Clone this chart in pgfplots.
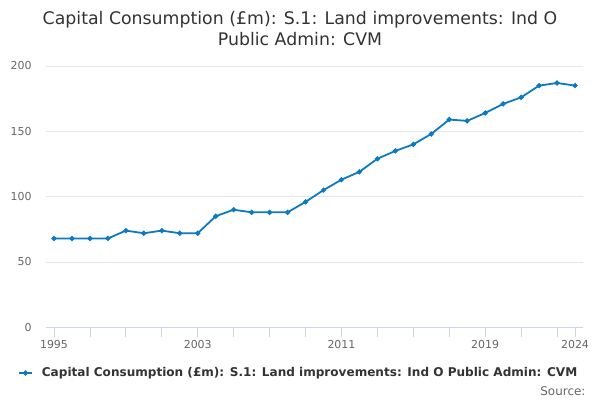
\documentclass[border=0pt]{standalone}
\usepackage{fontspec}
\setmainfont{DejaVu Sans}
\usepackage{pgfplots}
\pgfplotsset{compat=1.18}
\definecolor{line}{RGB}{12,122,194}
\definecolor{tick}{RGB}{102,102,102}
\definecolor{grid}{RGB}{230,230,230}
\definecolor{axisc}{RGB}{204,214,235}
\definecolor{title}{RGB}{51,51,51}
\begin{document}
\begin{tikzpicture}[x=1bp,y=1bp]
\path[use as bounding box] (0,0) rectangle (600,400);
\node[align=center,text=title,font=\fontsize{17.4}{21.5}\selectfont,anchor=north] at (300,392.5) {Capital Consumption (£m): S.1: Land improvements: Ind O\\Public Admin: CVM};
\begin{axis}[
  at={(46bp,72.7bp)}, anchor=south west,
  scale only axis, width=537bp, height=261.3bp,
  xmin=1994.555, xmax=2024.445, ymin=0, ymax=200,
  ytick={0,50,100,150,200},
  xtick={1995,2003,2011,2019,2024},
  extra x ticks={1997,1999,2001,2005,2007,2009,2013,2015,2017,2021,2023},
  extra x tick labels={},
  extra x tick style={grid=none},
  xticklabel style={/pgf/number format/1000 sep={}},
  /pgf/number format/assume math mode=true,
  tick label style={font=\fontsize{11}{13}\selectfont, text=tick},
  axis x line*=bottom, axis y line*=left,
  x axis line style={draw=axisc, -},
  y axis line style={draw=none, -},
  ymajorgrids, major grid style={draw=grid, line width=0.8pt},
  xmajorgrids=false,
  xtick style={draw=axisc, line width=0.8pt},
  ytick style={draw=none},
  major tick length=10bp,
  xtick align=outside,
  yticklabel style={xshift=-11bp},
  clip=false,
  legend style={at={(0.4705,-0.175)}, anchor=center, draw=none, fill=none,
    font=\bfseries\fontsize{12.1}{14}\selectfont, text=title,
    /tikz/every odd column/.append style={column sep=7bp}},
  legend image code/.code={\draw[#1] (0bp,0bp) -- (13bp,0bp); \draw[#1] plot[mark=*] coordinates {(6.5bp,0bp)};},
]
\addplot[line, line width=1.8pt, mark=*, mark size=1.6pt, mark options={fill=line, draw=line}] coordinates {
(1995,68)(1996,68)(1997,68)(1998,68)(1999,74)(2000,72)(2001,74)(2002,72)(2003,72)
(2004,85)(2005,90)(2006,88)(2007,88)(2008,88)(2009,96)(2010,105)(2011,113)(2012,119)
(2013,129)(2014,135)(2015,140)(2016,148)(2017,159)(2018,158)(2019,164)(2020,171)
(2021,176)(2022,185)(2023,187)(2024,185)};
\addlegendentry{Capital Consumption (£m): S.1: Land improvements: Ind O Public Admin: CVM}
\end{axis}
\node[anchor=base east, text=tick, font=\fontsize{12}{14}\selectfont] at (589,5) {Source:};
\end{tikzpicture}
\end{document}
